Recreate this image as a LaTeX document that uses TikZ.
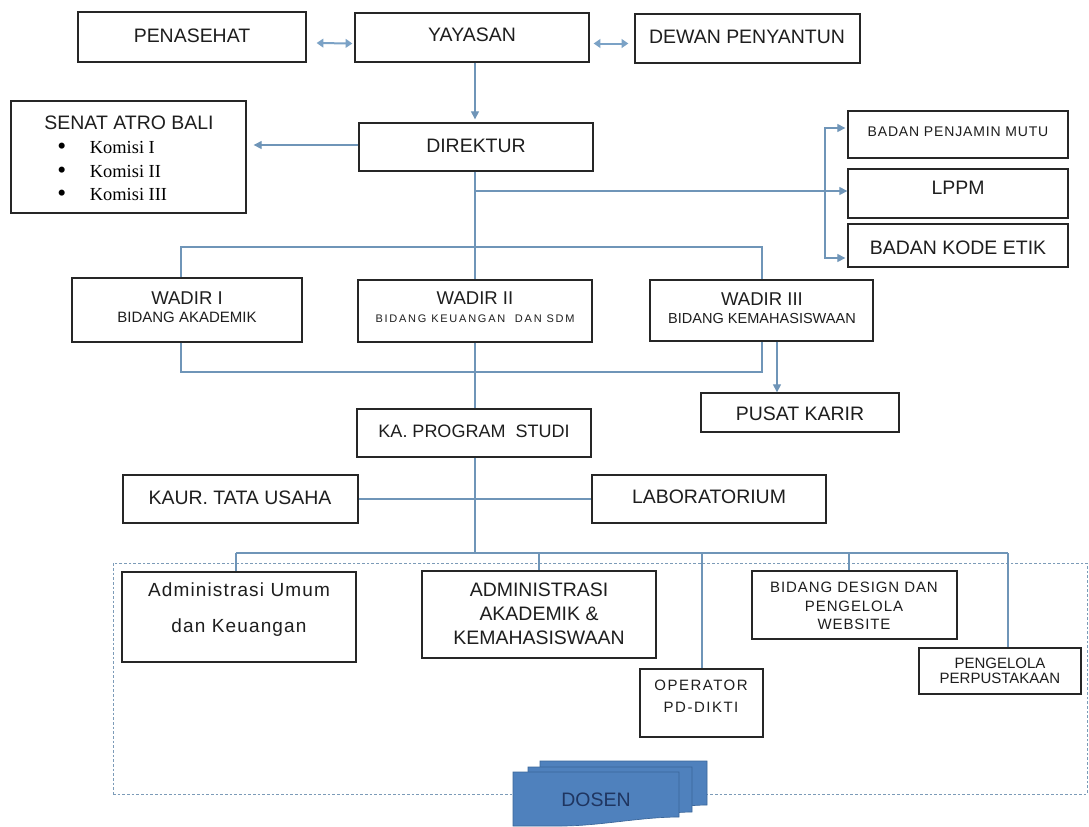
\documentclass[tikz,border=0pt]{standalone}
\usepackage{fontspec}
\setmainfont{Liberation Sans}
\newfontfamily\tnr{Liberation Serif}
\newfontfamily\lsa[LetterSpace=6]{Liberation Sans}
\newfontfamily\lsb[LetterSpace=10]{Liberation Sans}
\newfontfamily\lsc[LetterSpace=16]{Liberation Sans}
\usetikzlibrary{fit,calc,arrows.meta}
\definecolor{lc}{HTML}{6F95B8}
\definecolor{lctwo}{HTML}{7BA2C6}
\definecolor{bdc}{HTML}{262626}
\definecolor{tx}{HTML}{1E1E1E}
\definecolor{dsh}{HTML}{7C9BB8}
\definecolor{dosf}{HTML}{4F81BD}
\definecolor{dosl}{HTML}{3B6699}
\definecolor{dost}{HTML}{1F3560}
\newcommand\obox[5]{\node[box, fit={(#2,#3) (#4,#5)}] (#1) {};}
\newcommand\fsz[2]{\fontsize{#1}{#2}\selectfont}
\newcommand\bul{\makebox[24.5pt][l]{\raisebox{-0.5pt}{\fsz{19}{19}\textbullet}}}
\tikzset{
  box/.style={draw=bdc, line width=1pt, inner sep=0pt, fill=white},
  t/.style={inner sep=0pt, text=tx, font=\fsz{14.6}{17}},
  kom/.style={inner sep=0pt, text=black, anchor=west, font=\tnr\fsz{13.8}{16}},
  conn/.style={draw=lc, line width=0.9pt},
  arr/.style={conn, -{Triangle[length=6pt,width=6pt]}},
  darr/.style={draw=lctwo, line width=1.5pt, {Triangle[length=5pt,width=6.5pt]}-{Triangle[length=5pt,width=6.5pt]}},
  grp/.style={draw=dsh, line width=0.6pt, dash pattern=on 2pt off 1.5pt, inner sep=0pt},
  page/.style={fill=dosf, draw=dosl, line width=0.5pt}
}
\begin{document}
\begin{tikzpicture}[x=0.75pt,y=-0.75pt]
\fill[white] (0,0) rectangle (1089,826);
\useasboundingbox (0,0) rectangle (1089,826);

% dashed group
\node[grp, fit={(113,563) (1087,794)}] (grpbox) {};

% boxes
\obox{pen}{78}{12}{306}{62}
\obox{yay}{355}{13}{589}{62}
\obox{dew}{635}{14}{860}{63}
\obox{senat}{11}{101}{246}{213}
\obox{dir}{359}{123}{593}{171}
\obox{bpm}{848}{111}{1068}{158}
\obox{lppm}{848}{169}{1068}{218}
\obox{bke}{848}{224}{1068}{267}
\obox{wa}{72}{278}{302}{342}
\obox{wb}{358}{280}{592}{342}
\obox{wc}{650}{280}{873}{341}
\obox{pk}{701}{393}{899}{432}
\obox{ka}{357}{409}{591}{457}
\obox{kaur}{123}{475}{358}{523}
\obox{lab}{592}{475}{826}{523}
\obox{au}{122}{572}{356}{662}
\obox{aa}{422}{571}{656}{658}
\obox{op}{640}{669}{763}{737}
\obox{bd}{752}{571}{957}{639}
\obox{pp}{919}{648}{1081}{694}

% texts
\node[t] (penT) at (192,36) {PENASEHAT};
\node[t] (yayT) at (472,35) {YAYASAN};
\node[t] (dewT) at (747,37) {DEWAN PENYANTUN};
\node[t] (senT) at (129,123) {SENAT ATRO BALI};
\node[kom] (k1) at (57,148) {\bul Komisi I};
\node[kom] (k2) at (57,172) {\bul Komisi II};
\node[kom] (k3) at (57,195) {\bul Komisi III};
\node[t] (dirT) at (476,146) {DIREKTUR};
\node[t, font=\lsa\fsz{10.5}{12}] (bpmT) at (958,132) {BADAN PENJAMIN MUTU};
\node[t] (lppmT) at (958,188) {LPPM};
\node[t] (bkeT) at (958,248) {BADAN KODE ETIK};
\node[t, font=\fsz{13.9}{16}] (waA) at (187,298) {WADIR I};
\node[t, font=\fsz{11.25}{13}] (waB) at (187,317) {BIDANG AKADEMIK};
\node[t, font=\fsz{13.9}{16}] (wbA) at (475,298) {WADIR II};
\node[t, font=\lsc\fsz{8.25}{10}] (wbB) at (475,319) {BIDANG KEUANGAN\ \ DAN SDM};
\node[t, font=\fsz{13.9}{16}] (wcA) at (762,299) {WADIR III};
\node[t, font=\fsz{10.9}{12}] (wcB) at (762,318) {BIDANG KEMAHASISWAAN};
\node[t] (pkT) at (800,414) {PUSAT KARIR};
\node[t, font=\fsz{13.5}{16}] (kaT) at (474,431) {KA. PROGRAM\ \ STUDI};
\node[t] (kaurT) at (240,498) {KAUR. TATA USAHA};
\node[t] (labT) at (709,497) {LABORATORIUM};
\node[t, align=center, font=\lsa\fsz{14.25}{27}] (auT) at (239,610) {Administrasi Umum\\dan Keuangan};
\node[t, align=center, font=\fsz{14.6}{18}] (aaT) at (539,614) {ADMINISTRASI\\AKADEMIK \&\\KEMAHASISWAAN};
\node[t, align=center, font=\lsb\fsz{11.25}{16.5}] (opT) at (701,696) {OPERATOR\\PD-DIKTI};
\node[t, align=center, font=\lsa\fsz{11.25}{13.9}] (bdT) at (854,606) {BIDANG DESIGN DAN\\PENGELOLA\\WEBSITE};
\node[t, align=center, font=\fsz{11.25}{11.5}] (ppT) at (1000,671) {PENGELOLA\\PERPUSTAKAAN};

% helper coordinates
\coordinate (cx) at (475,0);
\coordinate (j1) at (475,191);
\coordinate (bx) at (825,191);
\coordinate (b1) at (825,128);
\coordinate (b3) at (825,258);
\coordinate (t1) at (181,247);
\coordinate (t2) at (181,372);
\coordinate (t3) at (762,247);
\coordinate (t4) at (762,372);
\coordinate (px) at (777,0);
\coordinate (j2) at (475,553);
\coordinate (h1) at (236,553);
\coordinate (h2) at (1008,553);
\coordinate (hd) at (849,553);
\coordinate (ha) at (539,553);
\coordinate (ho) at (702,553);

% connectors
\draw[darr] ($(pen.east)+(10,6)$) -- ($(yay.west)+(-2,6)$);
\draw[darr] ($(yay.east)+(4,6)$) -- ($(dew.west)+(-6,5)$);
\draw[arr] (cx |- yay.south) -- ($(cx |- dir.north)+(0,-3)$);
\draw[arr] ($(dir.west)+(0,-2)$) -- ($(senat.east |- dir.west)+(7,-2)$);
\draw[conn] (cx |- dir.south) -- (cx |- wb.north);
\draw[arr] (j1) -- (lppm.west |- j1);
\draw[arr] (bx) -- (b1) -- ($(bpm.west |- b1)+(-2,0)$);
\draw[arr] (bx) -- (b3) -- ($(bke.west |- b3)+(-2,0)$);
\draw[conn] (t1 |- wa.north) -- (t1) -- (t3) -- (t3 |- wc.north);
\draw[conn] (t2 |- wa.south) -- (t2) -- (t4) -- (t4 |- wc.south);
\draw[conn] (cx |- wb.south) -- (cx |- ka.north);
\draw[arr] (px |- wc.south) -- (px |- pk.north);
\draw[conn] (cx |- ka.south) -- (j2);
\draw[conn] (kaur.east) -- (lab.west);
\draw[conn] (h1) -- (h2);
\draw[conn] (h1) -- (h1 |- au.north);
\draw[conn] (ha) -- (ha |- aa.north);
\draw[conn] (ho) -- (ho |- op.north);
\draw[conn] (hd) -- (hd |- bd.north);
\draw[conn] (h2) -- (h2 |- pp.north);

% DOSEN multidocument
\path[page] (540,761) -- (707,761) -- (707,805) .. controls (680,805) and (650,812) .. (620,812) -- (540,812) -- cycle;
\path[page] (528,767) -- (692,767) -- (692,812) .. controls (665,812) and (635,819) .. (605,819) -- (528,819) -- cycle;
\path[page] (513,772) -- (679,772) -- (679,817) .. controls (640,817) and (600,826) .. (560,826) -- (513,826) -- cycle;
\node[inner sep=0pt, text=dost, font=\fsz{14.6}{17}] (dosen) at (596,800) {DOSEN};
\end{tikzpicture}
\end{document}
